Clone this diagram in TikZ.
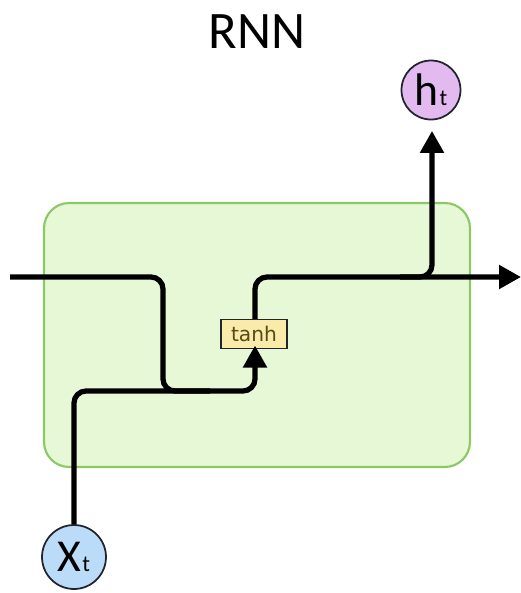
\documentclass[tikz,border=0pt]{standalone}
\usepackage{fontspec}
\setmainfont{Carlito}
\newfontfamily\tanhfont{DejaVu Sans}
\usetikzlibrary{arrows.meta,positioning}
\definecolor{cellfill}{RGB}{230,248,214}
\definecolor{celldraw}{RGB}{140,200,100}
\definecolor{tanhfill}{RGB}{250,235,170}
\definecolor{tanhtext}{RGB}{85,75,25}
\definecolor{hfill}{RGB}{226,186,240}
\definecolor{xfill}{RGB}{186,220,248}
\definecolor{ringdraw}{RGB}{35,35,45}

\begin{document}
\begin{tikzpicture}[x=0.02cm,y=-0.02cm,
cell/.style={draw=celldraw,line width=1.2pt,fill=cellfill,rounded corners=0.5cm,minimum width=8.52cm,minimum height=5.28cm},
layer/.style={draw=ringdraw,line width=0.6pt,fill=tanhfill,text=tanhtext,font=\tanhfont\fontsize{11.5}{12}\selectfont,inner xsep=3pt,minimum width=1.32cm,minimum height=0.58cm},
vec/.style={circle,draw=ringdraw,line width=1pt,minimum size=1.2cm,inner sep=0pt,font=\fontsize{26}{28}\selectfont},
wire/.style={line width=0.105cm,rounded corners=0.24cm},
arr/.style={wire,-{Triangle[length=0.44cm,width=0.46cm]}}]
\useasboundingbox (0,0) rectangle (521,593);
\node[font=\fontsize{30}{32}\selectfont] (title) at (257,32) {RNN};
\node[cell] (cell) at (257,335) {};
\node[layer] (tanh) at (254,334) {tanh};
\node[vec,fill=hfill,minimum size=1.18cm] (ht) at (431,90) {h\kern0.5pt{\fontsize{13}{13}\selectfont t}};
\node[vec,fill=xfill,minimum size=1.28cm] (xt) at (74,557) {X\kern0.5pt{\fontsize{13}{13}\selectfont t}};
\coordinate (hin) at (10,277);
\coordinate (hout) at (521,277);
\coordinate (join) at (210,391);
\coordinate (split) at (400,277);
% previous state and input
\draw[wire] (hin) -- (163,277) -- (163,391) -- (join);
\draw[arr,shorten >=-2pt] (xt.north) -- (74,391) -- (255,391) -- (tanh.south -| 255,0);
% new state
\draw[arr] (tanh.north -| 255,0) -- (255,277) -- (hout);
\draw[arr,shorten >=6pt] (split) -- (432,277) -- (ht.south -| 432,0);
\end{tikzpicture}
\end{document}
